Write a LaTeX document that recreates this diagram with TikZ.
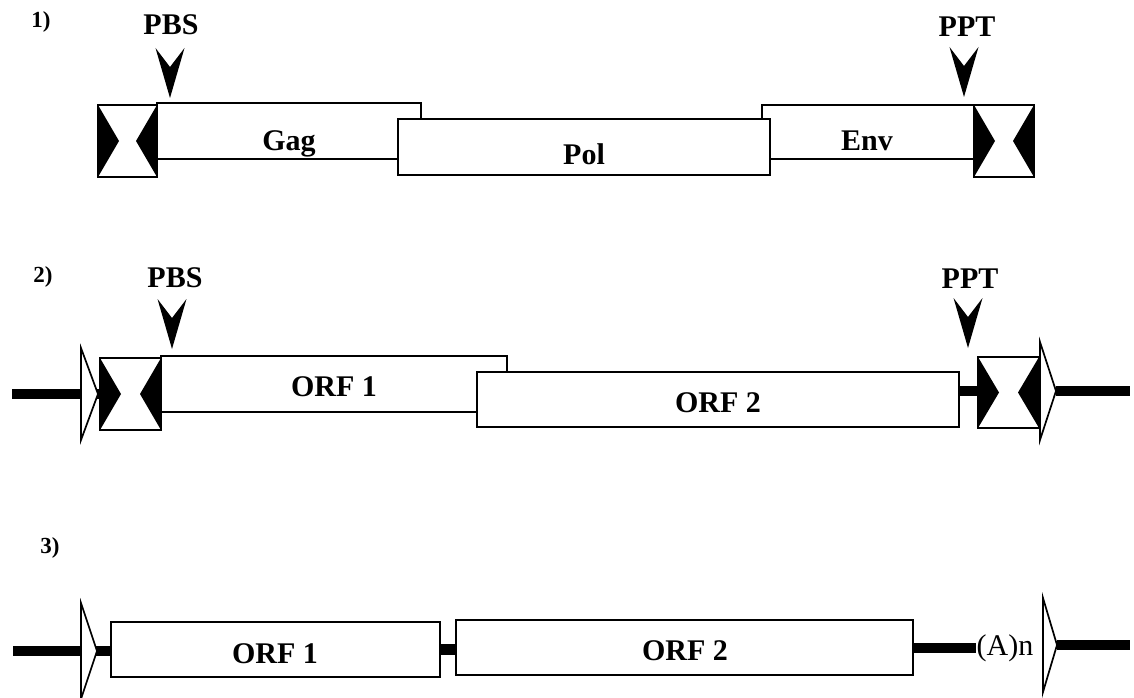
\documentclass[tikz,border=0pt]{standalone}
\usepackage{fontspec}
\setmainfont{Liberation Serif}

% black V-shaped site marker: centre x, top y
\newcommand{\sitemark}[2]{%
  \fill (#1-14.5,#2) -- (#1,#2+19) -- (#1+14.5,#2) -- (#1,#2+50) -- cycle;}
% LTR box with two inward-pointing black wedges: name, cx, cy, w, h
\newcommand{\ltrbox}[5]{%
  \node[gene={#4}{#5}] (#1) at (#2,#3) {};
  \fill (#1.north west) -- ([xshift=21pt]#1.west) -- (#1.south west) -- cycle;
  \fill (#1.north east) -- ([xshift=-21pt]#1.east) -- (#1.south east) -- cycle;}
% open repeat triangle: base x, top y, bottom y, apex name, apex x
\newcommand{\opentri}[5]{%
  \coordinate (#4) at (#5,{(#2+#3)/2});
  \draw[tri] (#1,#2) -- (#4) -- (#1,#3) -- cycle;}

\tikzset{
  gene/.style 2 args={draw, fill=white, line width=1.8pt, inner sep=0pt,
    outer sep=0pt, minimum width=#1pt, minimum height=#2pt},
  lbl/.style={font=\fontsize{30}{32}\selectfont\bfseries, anchor=base, inner sep=0pt},
  num/.style={font=\fontsize{23}{25}\selectfont\bfseries, anchor=base, inner sep=0pt},
  plain/.style={font=\fontsize{30}{32}\selectfont, anchor=base, inner sep=0pt},
  dna/.style={line width=10.5pt},
  tri/.style={draw, fill=white, line width=1.7pt, line join=miter},
}

\begin{document}
\begin{tikzpicture}[x=1pt, y=-1pt]
\useasboundingbox (0,0) rectangle (1134,698);
\fill[white] (0,0) rectangle (1134,698);

% ---------------- 1) retrovirus ----------------
\node[num] (n1) at (41,28) {1)};
\node[lbl] (pbs1) at (171,35) {PBS};
\sitemark{170}{48}
\node[lbl] (ppt1) at (967,37) {PPT};
\sitemark{964}{47}

\ltrbox{ltrA}{127.5}{141}{59}{72}
\node[gene={264}{56}] (gag) at (289,131) {};
\node[gene={212}{54}] (env) at (868,132) {};
\node[gene={372}{56}] (pol) at (584,147) {};
\ltrbox{ltrB}{1004}{141}{60}{72}
\node[lbl] (tgag) at (289,150) {Gag};
\node[lbl] (tpol) at (584,164) {Pol};
\node[lbl] (tenv) at (867,150) {Env};

% ---------------- 2) LTR retrotransposon ----------------
\node[num] (n2) at (43,282) {2)};
\node[lbl] (pbs2) at (175,287) {PBS};
\sitemark{172}{299}
\node[lbl] (ppt2) at (970,288) {PPT};
\sitemark{968}{298}

\coordinate (l2a) at (12,394);
\node[gene={61}{72}, draw=none, fill=none] (ltrCpos) at (130.5,394) {};
\draw[dna] (l2a) -- (ltrCpos.west);
\opentri{81}{348}{440}{apx2a}{98}
\ltrbox{ltrC}{130.5}{394}{61}{72}
\node[gene={346}{56}] (orf1b) at (334,384) {};
\node[gene={482}{55}] (orf2b) at (718,399.5) {};
\node[lbl] (torf1b) at (334,396) {ORF 1};
\node[lbl] (torf2b) at (718,412) {ORF 2};

\coordinate (r2b) at (1130,391);
\draw[dna] ([xshift=1pt]orf2b.east |- 0,391) -- (1000,391);
\ltrbox{ltrD}{1008.5}{392.5}{61}{71}
\opentri{1040}{342}{440}{apx2b}{1056}
\draw[dna] (apx2b) -- (r2b);

% ---------------- 3) non-LTR retrotransposon ----------------
\node[num] (n3) at (50,553) {3)};

\coordinate (l3a) at (13,651);
\node[gene={329}{55}] (orf1c) at (275.5,649.5) {};
\node[gene={457}{55}] (orf2c) at (684.5,647.5) {};
\draw[dna] (l3a) -- (orf1c.west |- l3a);
\opentri{81}{603}{699}{apx3a}{97}
\draw[dna] (orf1c.east) -- (orf1c.east -| orf2c.west);
\node[lbl] (torf1c) at (275,663) {ORF 1};
\node[lbl] (torf2c) at (685,660) {ORF 2};

\node[plain] (polyA) at (1005,655) {(A)n};
\draw[dna] (orf2c.east |- polyA.west) -- (polyA.west);
\coordinate (r3b) at (1130,645);
\opentri{1043}{598}{692}{apx3b}{1057}
\draw[dna] (apx3b) -- (r3b);
\end{tikzpicture}
\end{document}
